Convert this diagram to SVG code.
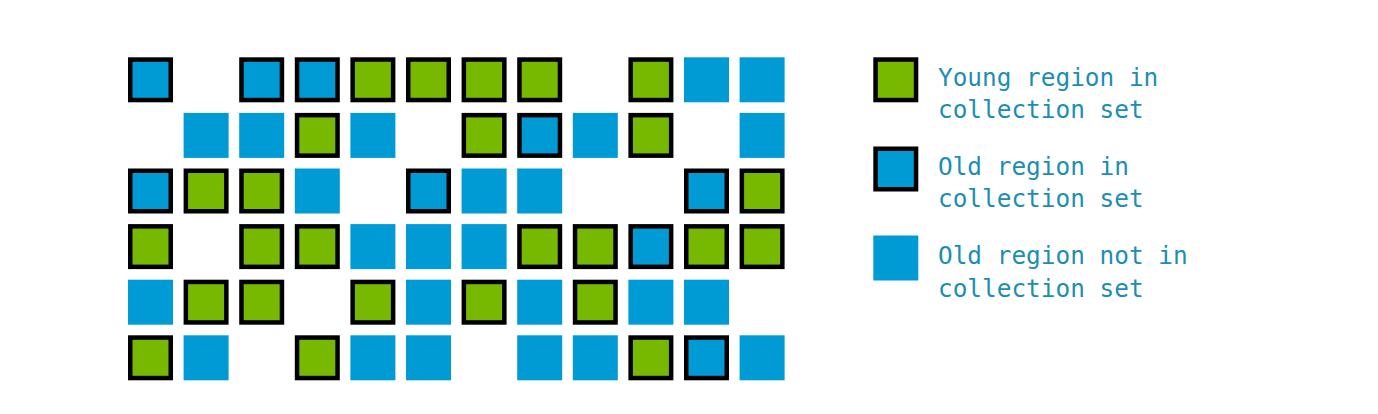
<svg xmlns="http://www.w3.org/2000/svg" xmlns:xlink="http://www.w3.org/1999/xlink" width="1378" height="414" viewBox="0 0 1378 414">
<style>
.yg{fill:#77b900;stroke:#000;stroke-width:4.5}
.oc{fill:#009bd5;stroke:#000;stroke-width:4.5}
.on{fill:#009bd5}
.lbl{font-family:"DejaVu Sans Mono","Liberation Mono",monospace;font-size:24.4px;fill:#1b8db6}
</style>
<defs>
<rect id="G" class="yg" x="2.25" y="2.25" width="40.5" height="40.5"/>
<rect id="O" class="oc" x="2.25" y="2.25" width="40.5" height="40.5"/>
<rect id="B" class="on" x="0" y="0" width="45" height="45"/>
</defs>
<rect width="1378" height="414" fill="#fff"/>
<g id="grid">
<g id="r1c1"><use href="#O" x="128" y="57.3"/></g>
<g id="r1c3"><use href="#O" x="239.2" y="57.3"/></g>
<g id="r1c4"><use href="#O" x="294.8" y="57.3"/></g>
<g id="r1c5"><use href="#G" x="350.4" y="57.3"/></g>
<g id="r1c6"><use href="#G" x="406" y="57.3"/></g>
<g id="r1c7"><use href="#G" x="461.6" y="57.3"/></g>
<g id="r1c8"><use href="#G" x="517.2" y="57.3"/></g>
<g id="r1c10"><use href="#G" x="628.4" y="57.3"/></g>
<g id="r1c11"><use href="#B" x="684" y="57.3"/></g>
<g id="r1c12"><use href="#B" x="739.6" y="57.3"/></g>

<g id="r2c2"><use href="#B" x="183.6" y="112.9"/></g>
<g id="r2c3"><use href="#B" x="239.2" y="112.9"/></g>
<g id="r2c4"><use href="#G" x="294.8" y="112.9"/></g>
<g id="r2c5"><use href="#B" x="350.4" y="112.9"/></g>
<g id="r2c7"><use href="#G" x="461.6" y="112.9"/></g>
<g id="r2c8"><use href="#O" x="517.2" y="112.9"/></g>
<g id="r2c9"><use href="#B" x="572.8" y="112.9"/></g>
<g id="r2c10"><use href="#G" x="628.4" y="112.9"/></g>
<g id="r2c12"><use href="#B" x="739.6" y="112.9"/></g>

<g id="r3c1"><use href="#O" x="128" y="168.5"/></g>
<g id="r3c2"><use href="#G" x="183.6" y="168.5"/></g>
<g id="r3c3"><use href="#G" x="239.2" y="168.5"/></g>
<g id="r3c4"><use href="#B" x="294.8" y="168.5"/></g>
<g id="r3c6"><use href="#O" x="406" y="168.5"/></g>
<g id="r3c7"><use href="#B" x="461.6" y="168.5"/></g>
<g id="r3c8"><use href="#B" x="517.2" y="168.5"/></g>
<g id="r3c11"><use href="#O" x="684" y="168.5"/></g>
<g id="r3c12"><use href="#G" x="739.6" y="168.5"/></g>

<g id="r4c1"><use href="#G" x="128" y="224.1"/></g>
<g id="r4c3"><use href="#G" x="239.2" y="224.1"/></g>
<g id="r4c4"><use href="#G" x="294.8" y="224.1"/></g>
<g id="r4c5"><use href="#B" x="350.4" y="224.1"/></g>
<g id="r4c6"><use href="#B" x="406" y="224.1"/></g>
<g id="r4c7"><use href="#B" x="461.6" y="224.1"/></g>
<g id="r4c8"><use href="#G" x="517.2" y="224.1"/></g>
<g id="r4c9"><use href="#G" x="572.8" y="224.1"/></g>
<g id="r4c10"><use href="#O" x="628.4" y="224.1"/></g>
<g id="r4c11"><use href="#G" x="684" y="224.1"/></g>
<g id="r4c12"><use href="#G" x="739.6" y="224.1"/></g>

<g id="r5c1"><use href="#B" x="128" y="279.7"/></g>
<g id="r5c2"><use href="#G" x="183.6" y="279.7"/></g>
<g id="r5c3"><use href="#G" x="239.2" y="279.7"/></g>
<g id="r5c5"><use href="#G" x="350.4" y="279.7"/></g>
<g id="r5c6"><use href="#B" x="406" y="279.7"/></g>
<g id="r5c7"><use href="#G" x="461.6" y="279.7"/></g>
<g id="r5c8"><use href="#B" x="517.2" y="279.7"/></g>
<g id="r5c9"><use href="#G" x="572.8" y="279.7"/></g>
<g id="r5c10"><use href="#B" x="628.4" y="279.7"/></g>
<g id="r5c11"><use href="#B" x="684" y="279.7"/></g>

<g id="r6c1"><use href="#G" x="128" y="335.3"/></g>
<g id="r6c2"><use href="#B" x="183.6" y="335.3"/></g>
<g id="r6c4"><use href="#G" x="294.8" y="335.3"/></g>
<g id="r6c5"><use href="#B" x="350.4" y="335.3"/></g>
<g id="r6c6"><use href="#B" x="406" y="335.3"/></g>
<g id="r6c8"><use href="#B" x="517.2" y="335.3"/></g>
<g id="r6c9"><use href="#B" x="572.8" y="335.3"/></g>
<g id="r6c10"><use href="#G" x="628.4" y="335.3"/></g>
<g id="r6c11"><use href="#O" x="684" y="335.3"/></g>
<g id="r6c12"><use href="#B" x="739.6" y="335.3"/></g>
</g>
<g id="legend-young">
<use href="#G" x="873.3" y="57.3"/>
<text class="lbl" x="938" y="86">Young region in</text>
<text class="lbl" x="938" y="118">collection set</text>
</g>
<g id="legend-old-in">
<use href="#O" x="873.3" y="146.5"/>
<text class="lbl" x="938" y="175">Old region in</text>
<text class="lbl" x="938" y="207">collection set</text>
</g>
<g id="legend-old-not">
<use href="#B" x="873.3" y="235.5"/>
<text class="lbl" x="938" y="264">Old region not in</text>
<text class="lbl" x="938" y="297">collection set</text>
</g>
<g id="connectors"/>
</svg>
